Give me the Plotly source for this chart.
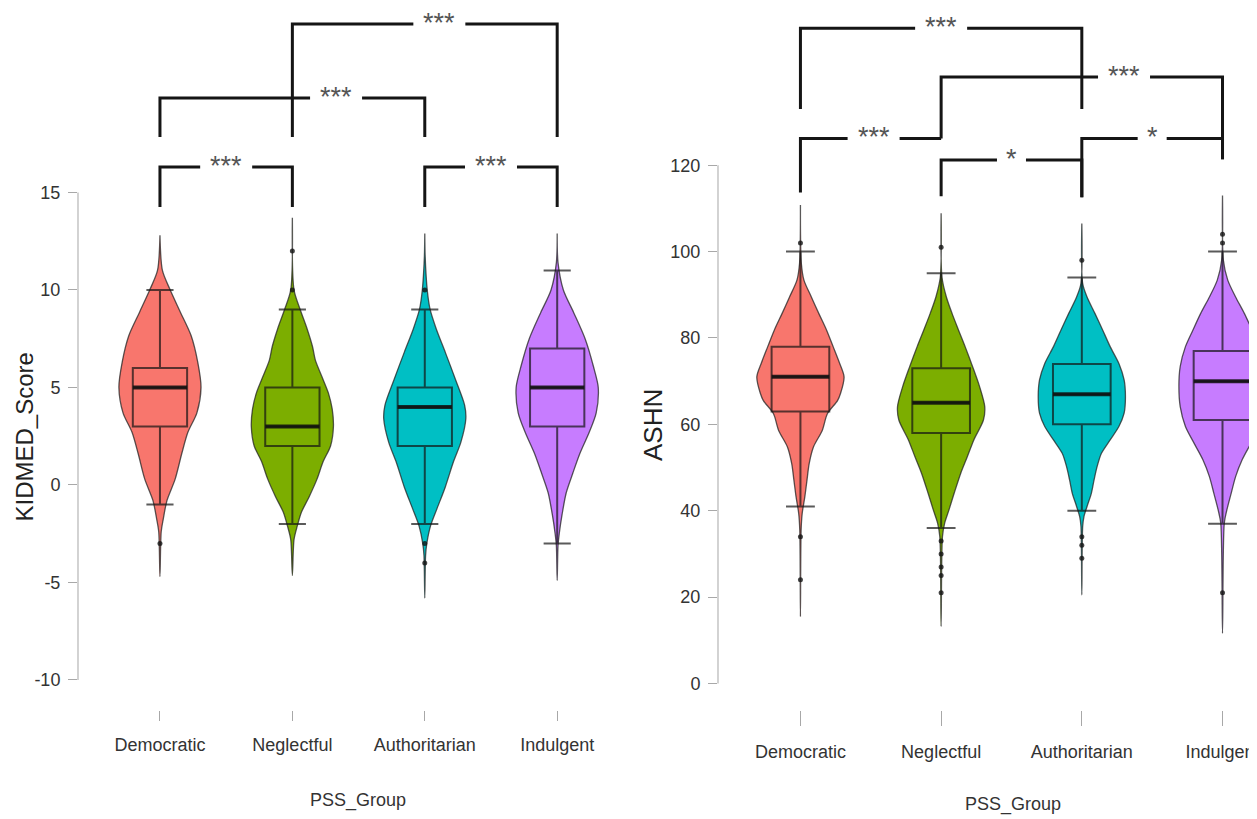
import plotly.graph_objects as go

W, H = 1257, 819
OFF = 8  # page offset of the plot div inside the browser window

# ---------------- data ----------------
groups = ["Democratic", "Neglectful", "Authoritarian", "Indulgent"]
colors = ["#F8766D", "#7CAE00", "#00BFC4", "#C77CFF"]

# KIDMED_Score panel
kid_ticks = [-10, -5, 0, 5, 10, 15]
kid_q1 = [3, 2, 2, 3]
kid_median = [5, 3, 4, 5]
kid_q3 = [6, 5, 5, 7]
kid_lower = [-1, -2, -2, -3]
kid_upper = [10, 9, 9, 11]
kid_outliers = [[-3], [10, 12], [-4, -3, 10], []]
kid_profile_values = [
    [-4.7, -2.4, -1.75, -0.8, 0.3, 1.6, 2.7, 3.7, 5.0, 6.3, 7.65, 8.85, 10.0, 11.0, 12.8],
    [-4.65, -2.8, -2.1, -1.4, -0.6, 0.3, 1.2, 2.0, 3.0, 3.9, 4.7, 5.4, 6.4, 7.1, 8.0, 9.0, 10.0, 13.7],
    [-5.8, -3.6, -3.0, -2.1, -1.2, -0.1, 1.2, 2.2, 3.4, 4.1, 5.4, 6.8, 8.0, 9.0, 10.0, 11.7, 12.9],
    [-4.9, -3.1, -2.5, -1.5, -0.4, 0.6, 1.6, 2.7, 3.7, 5.0, 6.1, 7.5, 8.85, 10.0, 11.4, 12.9],
]
kid_profile_widths = [
    [0, 0.03, 0.08, 0.17, 0.37, 0.53, 0.68, 0.9, 1.0, 0.92, 0.76, 0.5, 0.25, 0.06, 0],
    [0, 0.04, 0.12, 0.22, 0.41, 0.6, 0.75, 0.93, 1.0, 0.97, 0.88, 0.75, 0.56, 0.49, 0.36, 0.19, 0.04, 0],
    [0, 0.02, 0.05, 0.14, 0.3, 0.5, 0.7, 0.88, 1.0, 0.97, 0.75, 0.5, 0.28, 0.13, 0.06, 0.01, 0],
    [0, 0.02, 0.05, 0.12, 0.22, 0.38, 0.55, 0.78, 0.95, 1.0, 0.88, 0.68, 0.4, 0.15, 0.02, 0],
]
kid_bracket_a = [0, 2, 0, 1]
kid_bracket_b = [1, 3, 2, 3]
kid_bracket_y = [16.3, 16.3, 19.85, 23.64]
kid_bracket_tip_a = [14.26, 14.26, 17.85, 17.85]
kid_bracket_tip_b = [14.26, 14.26, 17.85, 17.85]
kid_bracket_label = ["***", "***", "***", "***"]
kid_bracket_label_x = [0.5, 2.5, 1.33, 2.11]

# ASHN panel
ashn_ticks = [0, 20, 40, 60, 80, 100, 120]
ashn_q1 = [63, 58, 60, 61]
ashn_median = [71, 65, 67, 70]
ashn_q3 = [78, 73, 74, 77]
ashn_lower = [41, 36, 40, 37]
ashn_upper = [100, 95, 94, 100]
ashn_outliers = [[24, 34, 102], [21, 25, 27, 30, 33, 101], [29, 32, 34, 98], [21, 102, 104]]
ashn_profile_values = [
    [15.5, 35.5, 39.4, 43.2, 47.1, 50.9, 54.8, 58.6, 62.5, 65.5, 67.2, 71.0, 74.1, 78.0, 81.8, 85.7, 89.5, 93.4, 97.3, 110.8],
    [13.2, 34.0, 37.1, 40.2, 44.1, 48.7, 52.5, 56.4, 61.0, 64.1, 68.8, 73.4, 78.0, 81.8, 85.7, 89.5, 94.0, 108.9],
    [20.5, 36.4, 38.7, 41.0, 44.1, 47.1, 50.2, 53.3, 56.4, 59.5, 62.6, 66.4, 70.3, 74.1, 78.0, 81.8, 85.7, 89.5, 92.6, 106.5],
    [11.6, 37.1, 40.2, 44.1, 47.9, 51.8, 55.6, 59.5, 64.1, 68.8, 73.4, 78.0, 81.8, 85.7, 89.5, 93.4, 98.0, 113.0],
]
ashn_profile_widths = [
    [0, 0.015, 0.04, 0.1, 0.15, 0.2, 0.3, 0.5, 0.62, 0.85, 0.92, 1.0, 0.9, 0.75, 0.6, 0.42, 0.25, 0.08, 0.02, 0],
    [0, 0.03, 0.08, 0.18, 0.3, 0.45, 0.6, 0.75, 0.97, 1.0, 0.88, 0.72, 0.55, 0.4, 0.25, 0.12, 0.02, 0],
    [0, 0.02, 0.05, 0.12, 0.22, 0.28, 0.35, 0.45, 0.65, 0.85, 0.97, 1.0, 0.97, 0.85, 0.65, 0.48, 0.3, 0.12, 0.02, 0],
    [0, 0.04, 0.1, 0.2, 0.3, 0.45, 0.65, 0.85, 0.97, 1.0, 0.97, 0.85, 0.68, 0.5, 0.3, 0.12, 0.02, 0],
]
ashn_bracket_a = [0, 1, 0, 2, 1]
ashn_bracket_b = [2, 3, 1, 3, 2]
ashn_bracket_y = [151.7, 140.4, 126.2, 126.2, 121.2]
ashn_bracket_tip_a = [133.0, 126.2, 113.7, 112.6, 112.8]
ashn_bracket_tip_b = [133.0, 121.4, 126.2, 121.4, 112.6]
ashn_bracket_label = ["***", "***", "***", "*", "*"]
ashn_bracket_label_x = [1.0, 2.3, 0.52, 2.5, 1.5]

# ---------------- style / layout ----------------
SANS = "Liberation Sans, Arial, sans-serif"
BOX_W = 0.41
VIOLIN_HALF = 0.31


def px_x(t):
    return (t - OFF) / W


def px_y(t):
    return 1 - (t - OFF) / H


panels = [
    dict(x="x", y="y", xo="x3", yo="y3", dom=[px_x(78), px_x(623)], xr=[-0.619, 3.497],
         yr=[-11.54, 24.46], ticks=kid_ticks, q1=kid_q1, med=kid_median, q3=kid_q3,
         lo=kid_lower, hi=kid_upper, out=kid_outliers, pv=kid_profile_values, pw=kid_profile_widths,
         ba=kid_bracket_a, bb=kid_bracket_b, by=kid_bracket_y, bta=kid_bracket_tip_a,
         btb=kid_bracket_tip_b, bl=kid_bracket_label, blx=kid_bracket_label_x, ticklen=10, standoff=8),
    dict(x="x2", y="y2", xo="x4", yo="y4", dom=[px_x(718), 1.0], xr=[-0.586, 3.302],
         yr=[-6.13, 156.4], ticks=ashn_ticks, q1=ashn_q1, med=ashn_median, q3=ashn_q3,
         lo=ashn_lower, hi=ashn_upper, out=ashn_outliers, pv=ashn_profile_values, pw=ashn_profile_widths,
         ba=ashn_bracket_a, bb=ashn_bracket_b, by=ashn_bracket_y, bta=ashn_bracket_tip_a,
         btb=ashn_bracket_tip_b, bl=ashn_bracket_label, blx=ashn_bracket_label_x, ticklen=15, standoff=10),
]

fig = go.Figure()
annotations = []
shapes = []
ydom = [px_y(710), 1.0]

for k, p in enumerate(panels):
    px_per_cat = (p["dom"][1] - p["dom"][0]) * W / (p["xr"][1] - p["xr"][0])
    # violins (base subplot)
    for i, g in enumerate(groups):
        vals, ws = p["pv"][i], p["pw"][i]
        xs = [i + w * VIOLIN_HALF for w in ws] + [i - w * VIOLIN_HALF for w in ws[::-1]]
        ys = list(vals) + list(vals[::-1])
        fig.add_trace(go.Scatter(
            x=xs, y=ys, mode="lines", fill="toself", fillcolor=colors[i],
            line=dict(color="rgba(35,35,35,0.75)", width=1.3, shape="spline", smoothing=0.8),
            xaxis=p["x"], yaxis=p["y"], hoverinfo="skip", showlegend=False))
    # significance brackets
    for j in range(len(p["by"])):
        a, b, yb = p["ba"][j], p["bb"][j], p["by"][j]
        lx = p["blx"][j]
        gap_px = 26 if p["bl"][j] == "***" else 14.5
        gap = gap_px / px_per_cat
        fig.add_trace(go.Scatter(
            x=[a, a, lx - gap, None, lx + gap, b, b],
            y=[p["bta"][j], yb, yb, None, yb, yb, p["btb"][j]],
            mode="lines", line=dict(color="#151515", width=3),
            xaxis=p["x"], yaxis=p["y"], hoverinfo="skip", showlegend=False))
        annotations.append(dict(
            x=lx, y=yb, xref=p["x"], yref=p["y"], text=p["bl"][j], showarrow=False,
            xanchor="center", yanchor="middle", yshift=1,
            font=dict(family=SANS, size=27, color="#555555")))
    # boxes (overlay subplot, drawn above the violins)
    fig.add_trace(go.Box(
        x=list(range(len(groups))), q1=p["q1"], median=p["med"], q3=p["q3"],
        lowerfence=p["lo"], upperfence=p["hi"], width=BOX_W, whiskerwidth=0.5,
        fillcolor="rgba(0,0,0,0)", line=dict(color="rgba(20,20,20,0.7)", width=2),
        boxpoints=False, xaxis=p["xo"], yaxis=p["yo"], hoverinfo="skip", showlegend=False))
    mx, my = [], []
    for i, m in enumerate(p["med"]):
        mx += [i - BOX_W / 2, i + BOX_W / 2, None]
        my += [m, m, None]
    fig.add_trace(go.Scatter(
        x=mx, y=my, mode="lines", line=dict(color="rgba(15,15,15,0.85)", width=4),
        xaxis=p["xo"], yaxis=p["yo"], hoverinfo="skip", showlegend=False))
    ox, oy = [], []
    for i, outs in enumerate(p["out"]):
        ox += [i] * len(outs)
        oy += outs
    fig.add_trace(go.Scatter(
        x=ox, y=oy, mode="markers", marker=dict(color="rgba(20,20,20,0.8)", size=5),
        xaxis=p["xo"], yaxis=p["yo"], hoverinfo="skip", showlegend=False))
    # y axis line spanning the tick range only
    shapes.append(dict(type="line", xref=p["x"] + " domain", yref=p["y"], x0=0, x1=0,
                       y0=min(p["ticks"]), y1=max(p["ticks"]),
                       line=dict(color="#b5b5b5", width=1.2)))

common_ax = dict(showgrid=False, zeroline=False, showline=False)
tickfont = dict(family=SANS, size=18, color="#333")


def xaxis_def(p, anchor):
    return dict(domain=p["dom"], range=p["xr"], anchor=anchor,
                tickvals=list(range(len(groups))), ticktext=groups, ticks="outside",
                ticklen=p["ticklen"], tickcolor="#a8a8a8", tickwidth=1.2,
                ticklabelstandoff=p["standoff"], ticklabeloverflow="allow",
                tickfont=tickfont, **common_ax)


def yaxis_def(p, anchor):
    return dict(domain=ydom, range=p["yr"], anchor=anchor,
                tickvals=p["ticks"], ticktext=[str(t) for t in p["ticks"]], ticks="outside",
                ticklen=9, tickcolor="#a8a8a8", tickwidth=1.2, ticklabelstandoff=4,
                tickfont=tickfont, **common_ax)


fig.update_layout(
    width=W, height=H, margin=dict(l=0, r=0, t=0, b=0),
    paper_bgcolor="white", plot_bgcolor="white", showlegend=False,
    xaxis=xaxis_def(panels[0], "y"),
    yaxis=yaxis_def(panels[0], "x"),
    xaxis2=xaxis_def(panels[1], "y2"),
    yaxis2=yaxis_def(panels[1], "x2"),
    xaxis3=dict(overlaying="x", range=panels[0]["xr"], anchor="y3", visible=False),
    yaxis3=dict(overlaying="y", range=panels[0]["yr"], anchor="x3", visible=False),
    xaxis4=dict(overlaying="x2", range=panels[1]["xr"], anchor="y4", visible=False),
    yaxis4=dict(overlaying="y2", range=panels[1]["yr"], anchor="x4", visible=False),
)

annotations += [
    dict(x=0, y=px_y(437), xref="paper", yref="paper", text="KIDMED_Score",
         textangle=-90, showarrow=False, xanchor="left", yanchor="middle",
         font=dict(family=SANS, size=24, color="#222")),
    dict(x=px_x(653), y=px_y(425), xref="paper", yref="paper", text="ASHN",
         textangle=-90, showarrow=False, xanchor="center", yanchor="middle",
         font=dict(family=SANS, size=26, color="#222")),
    dict(x=px_x(358), y=px_y(800), xref="paper", yref="paper", text="PSS_Group",
         showarrow=False, xanchor="center", yanchor="middle",
         font=dict(family=SANS, size=18, color="#333")),
    dict(x=px_x(1013), y=px_y(804), xref="paper", yref="paper", text="PSS_Group",
         showarrow=False, xanchor="center", yanchor="middle",
         font=dict(family=SANS, size=18, color="#333")),
]
fig.update_layout(annotations=annotations, shapes=shapes)

fig.write_html("out.html")
